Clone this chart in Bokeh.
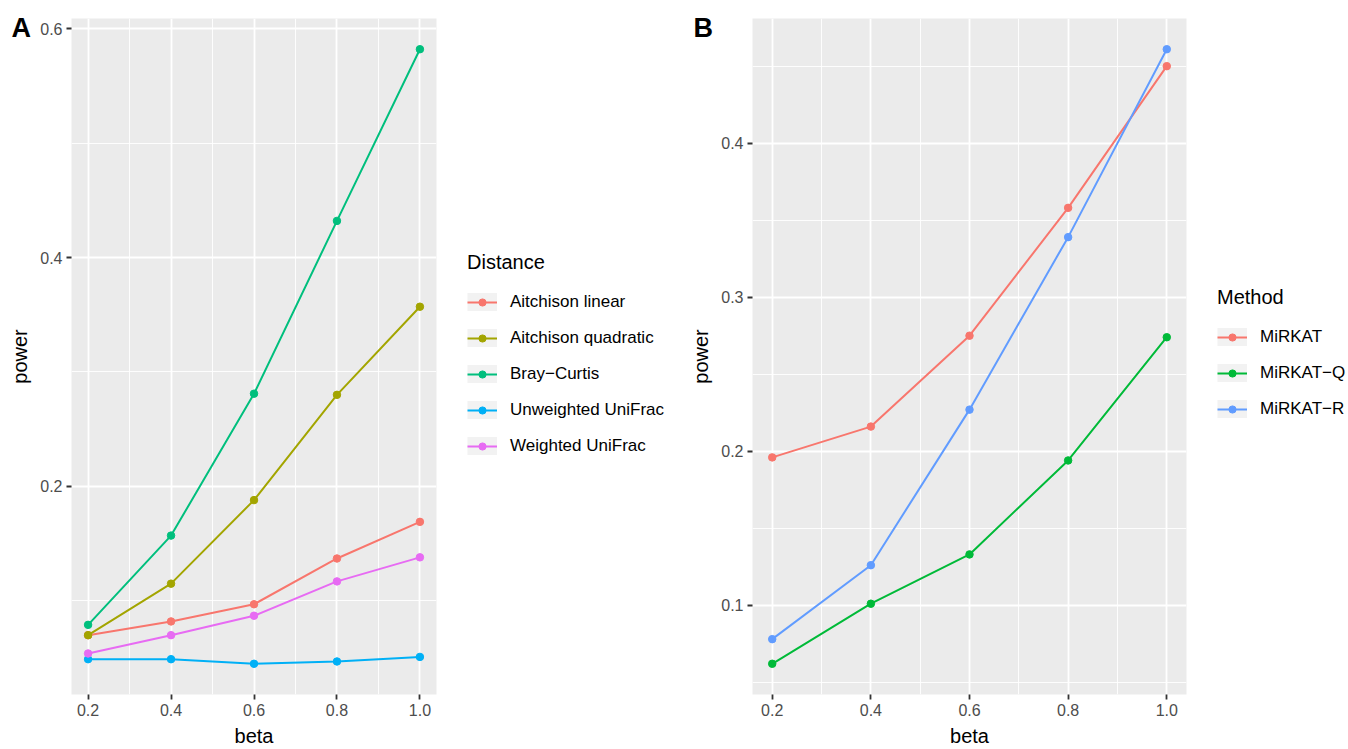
from bokeh.plotting import figure
from bokeh.models import Legend, LegendItem, Label, FixedTicker, Range1d
from bokeh.layouts import row
from bokeh.embed import file_html
from bokeh.resources import INLINE

# ---------------- data ----------------
beta = [0.2, 0.4, 0.6, 0.8, 1.0]
x_ticks = [0.2, 0.4, 0.6, 0.8, 1.0]
x_tick_labels = ["0.2", "0.4", "0.6", "0.8", "1.0"]
x_minor = [0.3, 0.5, 0.7, 0.9]

# Panel A
distance_names = ["Aitchison linear", "Aitchison quadratic", "Bray\u2212Curtis",
                  "Unweighted UniFrac", "Weighted UniFrac"]
aitchison_linear = [0.070, 0.082, 0.097, 0.137, 0.169]
aitchison_quadratic = [0.070, 0.115, 0.188, 0.280, 0.357]
bray_curtis = [0.079, 0.157, 0.281, 0.432, 0.582]
unweighted_unifrac = [0.049, 0.049, 0.045, 0.047, 0.051]
weighted_unifrac = [0.054, 0.070, 0.087, 0.117, 0.138]
distance_colors = ["#F8766D", "#A3A500", "#00BF7D", "#00B0F6", "#E76BF3"]
a_y_ticks = [0.2, 0.4, 0.6]
a_y_tick_labels = ["0.2", "0.4", "0.6"]
a_y_minor = [0.1, 0.3, 0.5]

# Panel B
method_names = ["MiRKAT", "MiRKAT\u2212Q", "MiRKAT\u2212R"]
mirkat = [0.196, 0.216, 0.275, 0.358, 0.450]
mirkat_q = [0.062, 0.101, 0.133, 0.194, 0.274]
mirkat_r = [0.078, 0.126, 0.227, 0.339, 0.461]
method_colors = ["#F8766D", "#00BA38", "#619CFF"]
b_y_ticks = [0.1, 0.2, 0.3, 0.4]
b_y_tick_labels = ["0.1", "0.2", "0.3", "0.4"]
b_y_minor = [0.05, 0.15, 0.25, 0.35, 0.45]

FONT = "Liberation Sans"
H = 749
LAB_W = 20  # width taken by the panel-letter label's side panel


def expand(vals, frac=0.05):
    lo, hi = min(vals), max(vals)
    pad = (hi - lo) * frac
    return lo - pad, hi + pad


def make_panel(series, colors, y_ticks, y_tick_labels, y_minor, width, left, frame_right, panel_label, label_x):
    all_y = [v for s in series for v in s]
    x0, x1 = expand(beta)
    y0, y1 = expand(all_y)
    p = figure(width=width, height=H, x_range=Range1d(x0, x1), y_range=Range1d(y0, y1),
               output_backend="svg", toolbar_location=None,
               min_border_left=left, min_border_right=0,
               min_border_top=18, min_border_bottom=55)
    p.background_fill_color = "#EBEBEB"
    p.border_fill_color = "white"
    p.outline_line_color = None

    p.xaxis.ticker = FixedTicker(ticks=x_ticks, minor_ticks=x_minor)
    p.yaxis.ticker = FixedTicker(ticks=y_ticks, minor_ticks=y_minor)
    p.xaxis.major_label_overrides = dict(zip(x_ticks, x_tick_labels))
    p.yaxis.major_label_overrides = dict(zip(y_ticks, y_tick_labels))

    for g in (p.xgrid, p.ygrid):
        g.grid_line_color = "white"
        g.grid_line_width = 1.8
        g.minor_grid_line_color = "white"
        g.minor_grid_line_width = 0.9

    for ax in (p.xaxis, p.yaxis):
        ax.axis_line_color = None
        ax.major_tick_line_color = "#333333"
        ax.major_tick_line_width = 1.8
        ax.major_tick_out = 5
        ax.major_tick_in = 0
        ax.minor_tick_out = 0
        ax.minor_tick_in = 0
        ax.major_label_text_color = "#4D4D4D"
        ax.major_label_text_font = FONT
        ax.major_label_text_font_size = "16px"
        ax.major_label_standoff = 4
        ax.axis_label_text_font = FONT
        ax.axis_label_text_font_size = "20px"
        ax.axis_label_text_font_style = "normal"
        ax.axis_label_text_color = "black"
        ax.axis_label_standoff = 6
    p.xaxis.axis_label = "beta"
    p.yaxis.axis_label = "power"

    for s, col in zip(series, colors):
        p.line(beta, s, line_color=col, line_width=2)
        p.scatter(beta, s, color=col, size=7.5)

    # panel letter, put in the (otherwise empty) right side panel, shifted back to the left edge
    lab = Label(x=label_x - frame_right, y=694 - 27, x_units="screen", y_units="screen",
                text=panel_label, text_font=FONT, text_font_size="27px",
                text_font_style="bold", text_color="black", text_baseline="alphabetic")
    p.add_layout(lab, "right")
    return p


def make_legend(series, names, colors, title, width, loc):
    # legend-only figure: the data lie outside its (hidden) range, only the legend shows
    q = figure(width=width, height=H, x_range=Range1d(-2, -1), y_range=Range1d(-2, -1),
               output_backend="svg", toolbar_location=None, min_border=0,
               x_axis_type=None, y_axis_type=None)
    q.outline_line_color = None
    q.background_fill_color = "white"
    q.border_fill_color = "white"
    q.xgrid.visible = False
    q.ygrid.visible = False
    items = []
    for s, name, col in zip(series, names, colors):
        box = q.line(beta, s, line_color="#F2F2F2", line_width=33)
        ln = q.line(beta, s, line_color=col, line_width=2)
        pt = q.scatter(beta, s, color=col, size=7.5)
        items.append(LegendItem(label=name, renderers=[box, ln, pt]))
    leg = Legend(items=items, title=title, location=loc, margin=0, padding=0,
                 border_line_color=None, background_fill_alpha=0,
                 glyph_width=30, glyph_height=18, label_height=20, spacing=16,
                 label_standoff=13, label_text_font=FONT, label_text_font_size="17px",
                 label_text_color="black",
                 title_text_font=FONT, title_text_font_size="20px",
                 title_text_font_style="normal", title_text_color="black",
                 title_standoff=18)
    q.add_layout(leg)
    return q


series_a = [aitchison_linear, aitchison_quadratic, bray_curtis, unweighted_unifrac, weighted_unifrac]
series_b = [mirkat, mirkat_q, mirkat_r]

pa = make_panel(series_a, distance_colors, a_y_ticks, a_y_tick_labels, a_y_minor,
                width=435 + LAB_W, left=71, frame_right=435, panel_label="A", label_x=10)
la = make_legend(series_a, distance_names, distance_colors, "Distance", 245 - LAB_W, (32 - LAB_W, 238))

pb = make_panel(series_b, method_colors, b_y_ticks, b_y_tick_labels, b_y_minor,
                width=505 + LAB_W, left=72, frame_right=1185 - 680, panel_label="B", label_x=694 - 680 - 2)
lb = make_legend(series_b, method_names, method_colors, "Method", 163 - LAB_W, (32 - LAB_W, 275))

layout = row(pa, la, pb, lb)
open("out.html", "w").write(file_html(layout, INLINE))
